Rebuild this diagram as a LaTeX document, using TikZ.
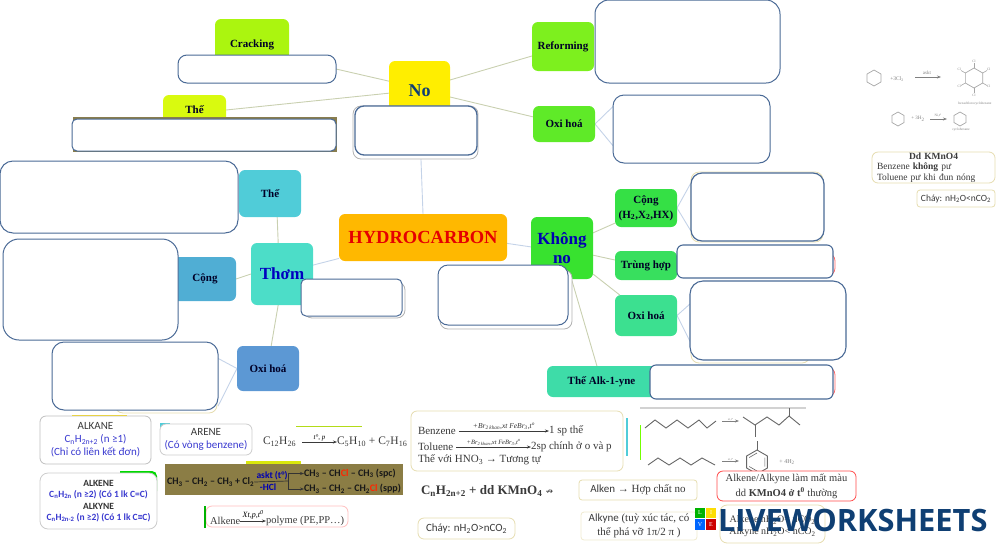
\documentclass[tikz,border=0pt]{standalone}
\usepackage{fontspec}
\setmainfont{Liberation Serif}
\newfontfamily\cb{Carlito}
\newfontfamily\lw{Open Sans}
\newfontfamily\djv{DejaVu Sans}
\usetikzlibrary{backgrounds,arrows.meta,calc}
\definecolor{edgeb}{HTML}{4A6A96}
\definecolor{navy}{HTML}{0F3F73}
\definecolor{tanb}{HTML}{E6DDB0}
\definecolor{linea}{HTML}{C9D0B0}
\definecolor{lineb}{HTML}{C4D3E8}
\definecolor{dtext}{HTML}{3A3A3A}
\definecolor{violetb}{HTML}{3A3AD0}
\definecolor{cCrack}{HTML}{ABF50F}
\definecolor{cThe}{HTML}{D9FA0F}
\definecolor{cNo}{HTML}{FFEE00}
\definecolor{cRef}{HTML}{7DF01E}
\definecolor{cOxi}{HTML}{5FEA28}
\definecolor{cCong}{HTML}{35E045}
\definecolor{cKhong}{HTML}{38E22F}
\definecolor{cTrung}{HTML}{38DF5E}
\definecolor{cOxiR}{HTML}{3CE090}
\definecolor{cAlk}{HTML}{3EDCA8}
\definecolor{cThom}{HTML}{4CDDC8}
\definecolor{cTheL}{HTML}{50CCD8}
\definecolor{cCongL}{HTML}{50AED4}
\definecolor{cOxiL}{HTML}{5C98D4}
\definecolor{cHyd}{HTML}{FFB800}
\definecolor{cBrown}{HTML}{8B7D45}
\newcommand\sbs[1]{\textsubscript{#1}}
\newcommand\fs[1]{\fontsize{#1}{13}\selectfont}
\newcommand\fsb[2]{\fontsize{#2}{#1}\selectfont}
\newcommand\bx[7][]{%
  \pgfmathsetmacro{\cxx}{(#4+#6)/2}%
  \pgfmathsetmacro{\cyy}{(#5+#7)/2}%
  \pgfmathsetmacro{\ww}{#6-#4}%
  \pgfmathsetmacro{\hh}{#7-#5}%
  \node[#2,#1,minimum width=\ww pt,minimum height=\hh pt] (#3) at (\cxx,\cyy)}
\newcommand\hexa[3]{\draw[hexl] (#1,#2) +(90:#3) -- +(30:#3) -- +(-30:#3) -- +(-90:#3) -- +(-150:#3) -- +(150:#3) -- cycle;}
\tikzset{
  x=1pt,y=-1pt,
  every node/.style={inner sep=0pt,outer sep=0pt,align=center},
  topic/.style={fill=#1,rounded corners=6pt,font=\bfseries\fs{11},text=black!85!blue},
  blank/.style={draw=edgeb,line width=1pt,fill=white,rounded corners=#1},
  blank/.default=9pt,
  shadow/.style={draw=#1,line width=.8pt,fill=white,rounded corners=8pt},
  note/.style={draw=#1,line width=.8pt,fill=white,rounded corners=6pt,text=dtext},
  plain/.style={text=dtext},
  ca/.style={draw=linea,line width=.9pt},
  cbl/.style={draw=lineb,line width=.9pt},
  rarrow/.style={-{Stealth[length=4pt,width=3pt]},line width=.6pt,draw=dtext},
  hexl/.style={draw=gray!70,line width=.7pt},
  zig/.style={draw=gray!80!black,line width=.9pt}
}
\begin{document}
\begin{tikzpicture}
\useasboundingbox (0,0) rectangle (1000,544);
% ---- topic nodes
\bx{topic=cCrack}{crack}{215}{19}{289}{60} {\rule{0pt}{19pt}Cracking};
\bx{topic=cThe}{the}{163}{95}{226}{125} {Thế};
\bx[font=\bfseries\fs{18}]{topic=cNo}{no}{389}{61}{450}{120} {\textcolor{navy}{No}};
\bx{topic=cRef}{ref}{532}{22}{594}{71} {Reforming};
\bx{topic=cOxi}{oxi}{533}{106}{595}{142} {Oxi hoá};
\bx{topic=cTheL}{thel}{239}{170}{301}{217} {Thế};
\bx[font=\bfseries\fs{17}]{topic=cThom}{thom}{251}{243}{313}{305} {\textcolor{blue!75!black}{Thơm}};
\bx{topic=cCongL}{congl}{170}{257}{236}{301} {\hspace*{4pt}Cộng};
\bx{topic=cOxiL}{oxil}{237}{346}{299}{391} {Oxi hoá};
\bx[font=\bfseries\fs{18.5}]{topic=cHyd}{hyd}{339}{214}{507}{261} {\textcolor{red!90!black}{HYDROCARBON}};
\bx[font=\bfseries\fsb{19}{17}]{topic=cKhong}{khong}{531}{217}{593}{279} {\rule{0pt}{27pt}\textcolor{blue!70!black}{\begin{tabular}{@{}c@{}}Không\\no\end{tabular}}};
\bx[font=\bfseries\fsb{15}{11}]{topic=cCong}{cong}{615}{189}{677}{227} {Cộng\\(H\sbs{2},X\sbs{2},HX)};
\bx{topic=cTrung}{trung}{615}{251}{677}{280} {Trùng hợp};
\bx{topic=cOxiR}{oxir}{615}{295}{677}{336} {Oxi hoá};
\bx{topic=cAlk}{alk}{547}{366}{660}{397} {\hspace*{-4pt}Thế Alk-1-yne};
% ---- answer boxes
\bx{blank}{bcrack}{178}{55}{336}{83} {};
\bx{fill=cBrown!85!gray}{bthes}{73}{117}{337}{152} {};
\bx{blank=5pt}{bthe}{72}{119}{336}{151} {};
\bx{shadow=gray!60}{bnos}{353}{106}{478}{159} {};
\bx[line width=1.3pt]{blank}{bno}{355}{106}{477}{155} {};
\bx[line width=1pt]{blank=14pt}{bref}{595}{0}{780}{83} {};
\bx{blank=11pt}{boxi}{613}{95}{770}{163} {};
\bx{blank=13pt}{bthel}{0}{161}{238}{233} {};
\bx{shadow=gray!60}{bthoms}{304}{282}{405}{318} {};
\bx{blank=5pt}{bthom}{301}{279}{402}{316} {};
\bx{blank=16pt}{bcongl}{3}{239}{178}{340} {};
\bx{shadow=tanb}{boxils}{115}{350}{217}{413} {};
\bx{blank=12pt}{boxil}{52}{342}{218}{410} {};
\bx{shadow=gray!60}{bkhongs}{440}{270}{572}{329} {};
\bx{blank=10pt}{bkhong}{438}{265}{568}{325} {};
\bx{shadow=tanb}{bcongs}{691}{172}{823}{242} {};
\bx[line width=1.2pt]{blank=11pt}{bcong}{691}{173}{824}{241} {};
\bx{shadow=red!60}{btrungs}{700}{253}{835}{276} {};
\bx[line width=1.1pt]{blank=6pt}{btrung}{677}{245}{833}{278} {};
\bx{shadow=tanb}{boxirs}{691}{283}{810}{363} {};
\bx[line width=1.1pt]{blank=13pt}{boxir}{690}{281}{846}{360} {};
\bx{shadow=red!60}{balks}{700}{367}{835}{397} {};
\bx[line width=1.1pt]{blank=6pt}{balk}{650}{365}{833}{399} {};
% ---- connectors
\begin{scope}[on background layer]
\draw[cbl] (no.south) -- (hyd.north);
\draw[ca] (no.163) -- (bcrack.east);
\draw[ca] (no.185) -- (the.east);
\draw[ca] (no.19) -- (ref.197);
\draw[ca] (no.348) -- (oxi.167);
\draw[cbl] (hyd.194) -- (thom.16);
\draw[ca] (thom.97) -- (thel.287);
\draw[ca] (thom.west) -- (congl.east);
\draw[ca] (thom.263) -- (oxil.82);
\draw[cbl] (hyd.356) -- (khong.178);
\draw[ca] (khong.26) -- (cong.206);
\draw[ca] (khong.347) -- (trung.170);
\draw[ca] (khong.320) -- (oxir.142);
\draw[ca] (khong.287) -- (alk.113);
\draw[cbl] (oxi.east) -- (boxi.164);
\draw[cbl] (oxi.east) -- (boxi.192);
\draw[cbl] (cong.east) -- (bcong.160);
\draw[cbl] (cong.east) -- (bcong.200);
\draw[cbl] (oxir.east) -- (boxir.168);
\draw[cbl] (oxir.east) -- (boxir.195);
\draw[cbl] (oxil.west) -- (boxil.12);
\draw[cbl] (oxil.west) -- (boxil.340);
\end{scope}
% ---- ALKANE / ARENE
\fill[yellow!80!orange] (72,414.5) rectangle (127,418);
\bx[font=\cb\fsb{13}{11}]{note=gray!50}{alkane}{40}{416}{151}{464} {ALKANE\\\textcolor{violetb}{C\sbs{n}H\sbs{2n+2} (n ≥1)}\\\textcolor{violetb}{(Chỉ có liên kết đơn)}};
\fill[cTheL] (160,423) rectangle (170,428);
\bx[font=\cb\fsb{13}{11}]{note=gray!40}{arene}{160}{424}{252}{455} {ARENE\\\textcolor{violetb}{(Có vòng benzene)}};
\fill[yellow!70!green] (296,425.5) rectangle (362,426.5);
\node[plain,font=\fs{11.5},anchor=west] (c12) at (263,442) {C\sbs{12}H\sbs{26}};
\node[plain,font=\fs{11.5},anchor=west] (c5) at (337,442) {C\sbs{5}H\sbs{10} + C\sbs{7}H\sbs{16}};
\draw[rarrow] (c12.east) ++(6,0) -- (c5.west) node[midway,above=1pt,font=\itshape\fs{7}] {t°, p};
% ---- halogenation
\fill[yellow!85!green] (246,461) rectangle (301,465);
\bx{fill=cBrown}{brown}{165}{464}{403}{495} {};
\node[font=\cb\bfseries\fs{10},text=black!90,anchor=west] (rc) at (167,482) {CH\sbs{3} – CH\sbs{2} – CH\sbs{3} + Cl\sbs{2}};
\node[font=\cb\bfseries\fs{9.5},text=blue!70!black] (asktn) at (272,475.5) {askt (t°)};
\node[font=\cb\bfseries\fs{9.5},text=blue!70!black] (hcln) at (268,487) {-HCl};
\node[font=\cb\bfseries\fs{10},text=black!90,anchor=west] (spc) at (304,473.5) {CH\sbs{3} – CH\textcolor{red!85!yellow}{Cl} – CH\sbs{3} (spc)};
\node[font=\cb\bfseries\fs{10},text=black!90,anchor=west] (spp) at (304,489) {CH\sbs{3} – CH\sbs{2} – CH\sbs{2}\textcolor{red!85!yellow}{Cl} (spp)};
\coordinate (fork) at (288,481);
\draw[line width=.7pt,black!80] (rc.east) -- (fork);
\draw[rarrow,black!80] (fork) |- (spc.west);
\draw[rarrow,black!80] (fork) |- (spp.west);
% ---- ALKENE / ALKYNE
\fill[green!85!black] (120,471) -- (152,471) to[out=0,in=90] (157,476) -- (157,491) -- (150,491) -- (150,478) -- (120,478) -- cycle;
\bx[font=\cb\bfseries\fsb{11.5}{9.5},rounded corners=8pt]{note=gray!40}{alkene}{40}{473}{157}{529} {\textcolor{black!80}{ALKENE}\\\textcolor{violetb}{C\sbs{n}H\sbs{2n} (n ≥2) (Có 1 lk C=C)}\\\textcolor{black!80}{ALKYNE}\\\textcolor{violetb}{C\sbs{n}H\sbs{2n-2} (n ≥2) (Có 1 lk C≡C)}};
% ---- polymer
\bx{note=red!25}{polybox}{206}{506}{348}{527} {};
\draw[green!70!black,line width=1.6pt] (205,506) -- (205,528);
\node[plain,font=\fs{10.5},anchor=west] (alken) at (210,521) {Alkene};
\node[plain,font=\fs{10.5},anchor=west] (poly) at (266,521) {polyme (PE,PP…)};
\draw[rarrow] (alken.east) -- (poly.west) node[midway,above=1.5pt,font=\itshape\fs{8}] {Xt,p,t\textsuperscript{0}};
% ---- benzene box
\bx{note=tanb}{benz}{411}{411}{623}{471} {};
\node[plain,font=\fs{11},anchor=west] (b1) at (418,431) {Benzene};
\node[plain,font=\fs{11},anchor=west] (b2) at (549,431) {1 sp thế};
\draw[rarrow] (b1.east) ++(3,0) -- (b2.west) node[midway,above=1.5pt,font=\itshape\fs{7.5},text=black!80] {+Br\sbs{2 khan},xt FeBr\sbs{3},t\textsuperscript{o}};
\node[plain,font=\fs{11},anchor=west] (t1) at (418,447) {Toluene};
\node[plain,font=\fs{11},anchor=west] (t2) at (531,447) {2sp chính ở o và p};
\draw[rarrow] (t1.east) ++(3,0) -- (t2.west) node[midway,above=1.5pt,font=\itshape\fs{6.5},text=black!80] {+Br\sbs{2 khan},xt FeBr\sbs{3},t\textsuperscript{o}};
\node[plain,font=\fs{11},anchor=west] (t3) at (418,460) {Thế với HNO\sbs{3} → Tương tự};
% ---- KMnO4 and small boxes
\node[plain,font=\bfseries\fs{13},anchor=west] (kmno) at (421,491) {C\sbs{n}H\sbs{2n+2} + dd KMnO\sbs{4} {\djv\mdseries\fs{9}↛}};
\bx[font=\fs{11},rounded corners=3pt]{note=tanb}{alkh}{579}{480}{697}{500} {{\cb Alken} → Hợp chất  no};
\bx[font=\fsb{14}{11},rounded corners=3pt]{note=tanb!60}{alky}{581}{512}{697}{540} {{\cb Alkyne} (tuỳ xúc tác, có\\thể phá vỡ 1π/2 π )};
\bx[font=\cb\fs{11}]{note=tanb}{chay}{418}{518}{515}{539} {Cháy: nH\sbs{2}O>nCO\sbs{2}};
% ---- vertical accents
\draw[cTheL,line width=1.8pt] (627,418) -- (627,456);
\draw[green!40!lime,line width=.8pt] (640,425) -- (640,460);
\draw[gray!35,line width=1.5pt] (640,408) -- (806,408);
% ---- skeletal formulas
\draw[zig] (645,428) -- (655,420) -- (666,428) -- (677,420) -- (688,428) -- (699,420) -- (707,428) -- (716,421);
\draw[rarrow,draw=gray] (722,421) -- (739,421) node[midway,above=.5pt,font=\fs{3},text=gray] {xt,t°};
\draw[zig] (743,417) -- (755,425) -- (767,417) -- (779,425) -- (789,416) -- (800,425);
\draw[zig] (755,425) -- (755,437);
\draw[zig] (789,416) -- (789,408);
\draw[zig] (648,465) -- (658,458) -- (669,465) -- (680,458) -- (691,465) -- (702,458) -- (715,465);
\draw[rarrow,draw=gray] (722,461) -- (739,461) node[midway,above=.5pt,font=\fs{3},text=gray] {xt,t°};
\draw[zig] (757,441) -- (757,450);
\draw[zig] (757,462) +(90:12) -- +(30:12) -- +(-30:12) -- +(-90:12) -- +(-150:12) -- +(150:12) -- cycle;
\draw[zig,line width=.6pt] (757,462) +(30:9) -- +(-30:9) +(-90:9) -- +(-150:9) +(150:9) -- +(90:9);
\node[font=\fs{6},text=gray] (h2) at (787,462) {+ 4H\sbs{2}};
% ---- red and orange boxes
\bx[font=\fsb{15}{10.5},rounded corners=6pt]{note=red!70}{redb}{717}{471}{856}{501} {Alkene/Alkyne làm mất màu\\dd \textbf{KMnO4 ở t\textsuperscript{0}} thường};
\bx[font=\fsb{12}{10},rounded corners=7pt]{note=tanb}{orb}{720}{505}{825}{543} {\\Alkene nH\sbs{2}O= nCO\sbs{2}\\Alkyne nH\sbs{2}O< nCO\sbs{2}};
% ---- logo
\fill[green!70!black] (695,508) rectangle (705,518);
\fill[yellow!80!orange] (706,508) rectangle (716,518);
\fill[blue!60!cyan] (695,519) rectangle (705,530);
\fill[red!80!black] (706,519) rectangle (716,530);
\node[font=\fs{6},text=white] (lL) at (700,513) {L};
\node[font=\fs{6},text=white] (lI) at (711,513) {I};
\node[font=\fs{6},text=white] (lV) at (700,524.5) {V};
\node[font=\fs{6},text=white] (lE) at (711,524.5) {E};
\node[font=\lw\bfseries\fsb{30}{30.8},text=navy,anchor=west] (logo) at (718,520) {LIVEWORKSHEETS};
% ---- top right reactions
\hexa{874}{78}{8}
\node[font=\fs{5.5},text=gray] (cl1) at (897,79) {+3Cl\sbs{2}};
\node[font=\fs{5},text=gray] (askt) at (927,73) {askt};
\draw[rarrow,draw=gray] (915,77) -- (941,77);
\hexa{974}{78}{10}
\foreach \a in {30,90,...,330} {\draw[gray!70,line width=.6pt] (974,78) +(\a:10) -- +(\a:15);
  \node[font=\fs{3.5},text=gray] (cl\a) at ($(974,78)+(\a:17)$) {Cl};}
\node[font=\fs{3.5},text=gray] (hx) at (975,104) {hexachlorocyclohexane};
\hexa{898}{119}{7}
\node[font=\fs{5},text=gray] (h3) at (918,119) {+ 3H\sbs{2}};
\node[font=\fs{3.5},text=gray] (ni) at (938,116) {Ni,t°};
\draw[rarrow,draw=gray] (930,119) -- (947,119);
\hexa{960}{119}{7}
\node[font=\fs{3.5},text=gray] (cy) at (961,130) {cyclohexane};
\bx[font=\fsb{10.5}{9.5},text width=113pt,align=left]{note=tanb}{ddk}{872}{152}{995}{183} {\hspace*{32pt}\textbf{Dd KMnO4}\\Benzene \textbf{không} pư\\Toluene pư khi đun nóng};
\bx[font=\cb\fs{9.5},rounded corners=3pt]{note=tanb}{chay2}{917}{190}{995}{207} {Cháy: nH\sbs{2}O<nCO\sbs{2}};
\end{tikzpicture}
\end{document}
